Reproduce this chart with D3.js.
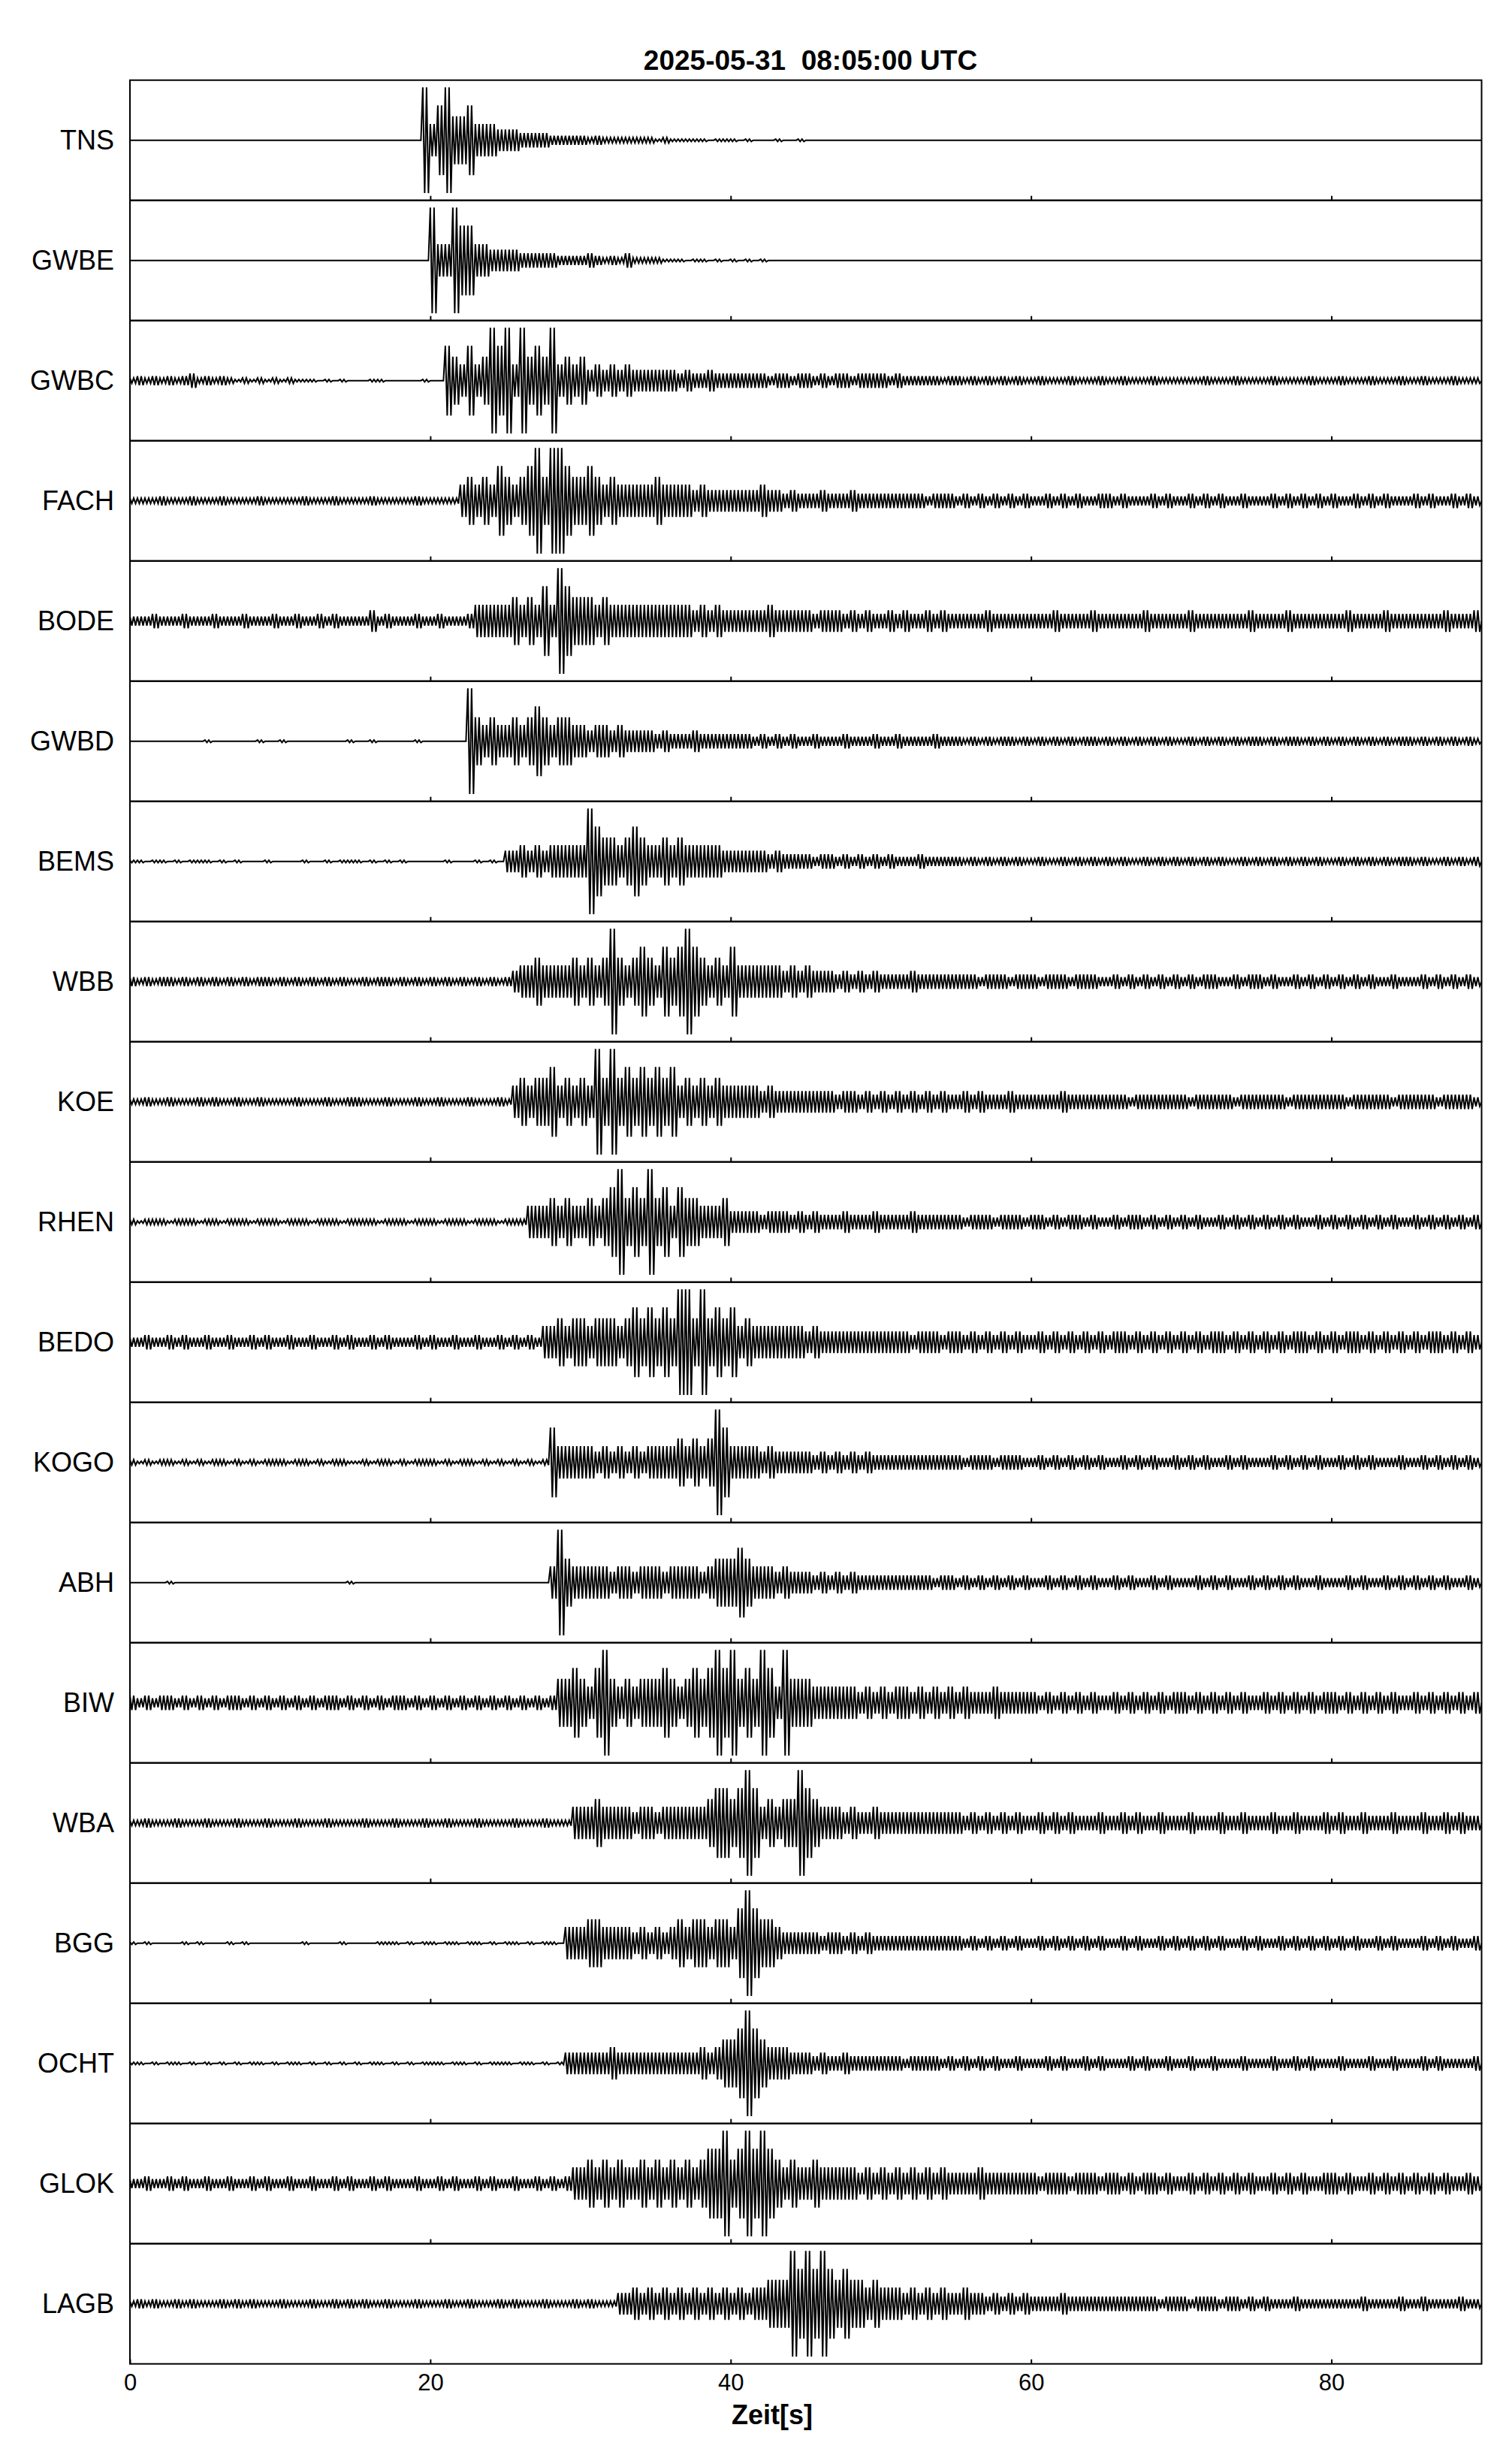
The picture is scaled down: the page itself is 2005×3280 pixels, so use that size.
<!DOCTYPE html>
<html>
<head>
<meta charset="utf-8">
<script src="https://cdn.jsdelivr.net/npm/d3@7"></script>
<style>
  body { margin: 0; background: #fff; }
  text { font-family: "Liberation Sans", Arial, Helvetica, sans-serif; }
</style>
</head>
<body>
<div id="chart"></div>
<script>
var title = "2025-05-31  08:05:00 UTC";
var xLabel = "Zeit[s]";
var stations = ["TNS", "GWBE", "GWBC", "FACH", "BODE", "GWBD", "BEMS", "WBB", "KOE", "RHEN",
                "BEDO", "KOGO", "ABH", "BIW", "WBA", "BGG", "OCHT", "GLOK", "LAGB"];
var timeRange = [0, 90];
var tickValues = [0, 20, 40, 60, 80];
var binSize = 0.5;   // seconds per envelope value
// envelope level code -> fraction of the trace's half height
var ampLevels = [0, 0.02, 0.045, 0.075, 0.12, 0.18, 0.27, 0.4, 0.58, 0.88];

// one digit per 0.5 s bin (envelope level), groups of 5 s
var tnsEnv  = "0000000000 0000000000 0000000000 0000000009 6897786665 5544443333 3232222222 1211111011 1010001001 0000000000 0000000000 0000000000 0000000000 0000000000 0000000000 0000000000 0000000000 0000000000";
var gwbeEnv = "0000000000 0000000000 0000000000 0000000000 9669886655 5544444333 3432324222 2111011010 1010100000 0000000000 0000000000 0000000000 0000000000 0000000000 0000000000 0000000000 0000000000 0000000000";
var gwbcEnv = "2323232342 3232121212 1211101010 0011000001 0087686798 9697879676 7565656555 5554544544 4444434434 4343443444 4343333323 3232323232 2322232223 2232223222 2223222322 2232222322 2322232223 2232223222";
var fachEnv = "2222322232 2232222322 2223222322 2232222232 2222676768 7678979987 7876766666 7666656555 5555655454 4454445444 4444443444 3434343434 3343434334 4343334343 3434343343 3343434343 4334343433 3434334343";
var bodeEnv = "3334333433 3433343334 3343343433 3353433343 3433346666 6767686987 7767666666 6666656565 5555565555 5455545454 4545445454 4444544444 4445444454 4444454444 4544444445 4444544444 4454444544 4444454445";
var gwbdEnv = "0000000000 1000000100 1000000001 0010000010 0000097676 6767876776 6566565555 4544454444 4443434343 3433343334 3343333433 3232323323 2323232332 3232323232 2323232323 3232332323 2323232323 3232323232";
var bemsEnv = "1101101011 1010100010 0001001011 1010101000 0010001010 5565656666 6987767876 6767666665 5555545444 4344343434 3433343333 3232323232 2322323232 3232232323 2323232232 3232323232 2323232323 3232232323";
var wbbEnv  = "3232332323 2323232332 3232323232 2323323232 3232323232 3566766667 6767976787 6878987676 8666666565 6555454545 4444544444 4443444344 4344434443 3434343434 3434433434 4343343434 3434343343 3343434343";
var koeEnv  = "2232232223 2322322322 2232223223 3222322232 2322232223 2676778676 7697978787 8786767676 6666565555 5555455454 5454545454 4545444544 4444544444 4443444444 4344444344 4444344444 4434444434 4444344443";
var rhenEnv = "2122212221 2212221222 1222122212 2221222122 2122212221 2226667676 6767897879 7868776667 5555455545 4544454445 4444544444 4344434443 4434344343 3434434343 4343343434 3434343343 4343434343 3434343434";
var bedoEnv = "3343343433 4334334343 3433433434 3343433343 4334334334 3434366767 7677767878 7879979787 8676666666 5655555555 5555455545 5454545454 4545454545 4554545454 5454554545 4545455454 5455454545 4545545454";
var kogoEnv = "2121221212 1221212122 2122121221 1212212122 2121221212 1212128666 6656565656 6667676798 6666565555 5454545454 4444444444 4344434443 3434343434 3343434334 3434334343 3343434343 3434343334 3343434343";
var abhEnv  = "0000010000 0000000000 0000000001 0000000000 0000000000 0000006976 6666566566 6566665677 7876665655 5454545444 4444444344 3434343434 3343434343 3434334343 3343434334 3434343343 3343433434 3434343343";
var biwEnv  = "4343443434 3434434343 4343434434 3434344343 4343434343 4343434778 7689767677 7876787898 9787986977 7666666565 6566565656 5655565555 5454545454 4545454545 5454545454 4545454545 5454545454 4545454545";
var wbaEnv  = "2232223222 3222322232 2232223222 2322232223 2232223222 2322232226 6676666566 5666666788 7898676779 8766656556 5555555555 5454545454 4545454445 4454544544 4544454454 4454454445 4544544454 4454454544";
var bggEnv  = "1010000101 0001010000 0001000010 0001110101 1011011010 1101011066 6776666565 6567677677 6898776555 5545545454 4444444444 4343434343 3434343434 3343433434 3434343343 4334343434 3434334343 3343434334";
var ochtEnv = "1101011010 1010101101 0110101010 1011010101 1101101011 1011010155 5555655555 5555556567 7898766655 5454454444 4443444434 3434343343 3343433434 3334343343 3433433343 3343343433 3433343343 3343433334";
var glokEnv = "3343343433 4334334343 3433433434 3343433343 3434334343 3433434346 6767676676 7676767889 7898987676 6766666565 6565656565 5556555555 5455545554 5545455454 4545454545 4454545445 5454454545 4545454454";
var lagbEnv = "2323223232 2232323222 3222322323 2322322232 2232232223 2322232223 2322255656 5656565656 5656677798 9898787767 6665656565 5655454545 4444544444 4444444344 4344434434 3433343333 3333433334 3343333433";

var envelopes = [tnsEnv, gwbeEnv, gwbcEnv, fachEnv, bodeEnv, gwbdEnv, bemsEnv, wbbEnv, koeEnv, rhenEnv,
                 bedoEnv, kogoEnv, abhEnv, biwEnv, wbaEnv, bggEnv, ochtEnv, glokEnv, lagbEnv];

// ---- layout ----
var width = 2005, height = 3280,
    margin = {top: 106.7, right: 32.5, bottom: 133.3, left: 173},
    panelH = (height - margin.top - margin.bottom) / stations.length;

var svg = d3.select("#chart").append("svg")
    .attr("width", width)
    .attr("height", height);

svg.append("rect").attr("width", width).attr("height", height).attr("fill", "#fff");

var x = d3.scaleLinear().domain(timeRange).range([margin.left, width - margin.right]);
var y = d3.scaleLinear().domain([-1, 1]).range([panelH, 0]);

// envelope -> min/max zigzag, 4 vertices per bin
function toPoints(code) {
  var pts = [];
  code.replace(/\s/g, "").split("").forEach(function(c, i) {
    var a = ampLevels[+c];
    for (var k = 0; k < 4; k++) pts.push([(i + k / 4) * binSize, k % 2 ? -a : a]);
  });
  pts.push([timeRange[1], 0]);
  return pts;
}

var line = d3.line()
    .x(function(d) { return x(d[0]); })
    .y(function(d) { return y(d[1]); });

svg.append("defs").append("clipPath").attr("id", "clip")
  .append("rect")
    .attr("x", x(timeRange[0])).attr("y", 0)
    .attr("width", x(timeRange[1]) - x(timeRange[0])).attr("height", panelH);

var panels = svg.selectAll(".panel")
    .data(stations)
  .enter().append("g")
    .attr("class", "panel")
    .attr("transform", function(d, i) { return "translate(0," + (margin.top + i * panelH) + ")"; });

panels.append("path")
    .attr("clip-path", "url(#clip)")
    .attr("d", function(d, i) { return line(toPoints(envelopes[i])); })
    .attr("fill", "none")
    .attr("stroke", "#000")
    .attr("stroke-width", 2)
    .attr("stroke-linejoin", "miter");

panels.append("rect")
    .attr("x", x(timeRange[0]))
    .attr("y", 0)
    .attr("width", x(timeRange[1]) - x(timeRange[0]))
    .attr("height", panelH)
    .attr("fill", "none")
    .attr("stroke", "#000")
    .attr("stroke-width", 2);

panels.append("text")
    .attr("x", margin.left - 21)
    .attr("y", panelH / 2)
    .attr("dy", "0.35em")
    .attr("text-anchor", "end")
    .attr("font-size", 36)
    .text(function(d) { return d; });

panels.each(function(d, i) {
  var last = i === stations.length - 1;
  var ax = d3.select(this).append("g")
      .attr("transform", "translate(0," + panelH + ")")
      .call(d3.axisBottom(x)
        .tickValues(last ? tickValues : tickValues.slice(1))
        .tickSizeInner(-6).tickSizeOuter(0).tickPadding(13)
        .tickFormat(last ? d3.format("d") : ""));
  ax.select(".domain").remove();
  ax.selectAll(".tick line").attr("stroke-width", 2);
  ax.selectAll(".tick text")
      .attr("font-family", "'Liberation Sans', Arial, sans-serif")
      .attr("font-size", 31)
      .attr("fill", "#000");
});

svg.append("text")
    .attr("x", 1079)
    .attr("y", 93)
    .attr("text-anchor", "middle")
    .attr("font-size", 37)
    .attr("font-weight", "bold")
    .style("white-space", "pre")
    .text(title);

svg.append("text")
    .attr("x", 1028)
    .attr("y", 3227)
    .attr("text-anchor", "middle")
    .attr("font-size", 36)
    .attr("font-weight", "bold")
    .text(xLabel);
</script>
</body>
</html>
